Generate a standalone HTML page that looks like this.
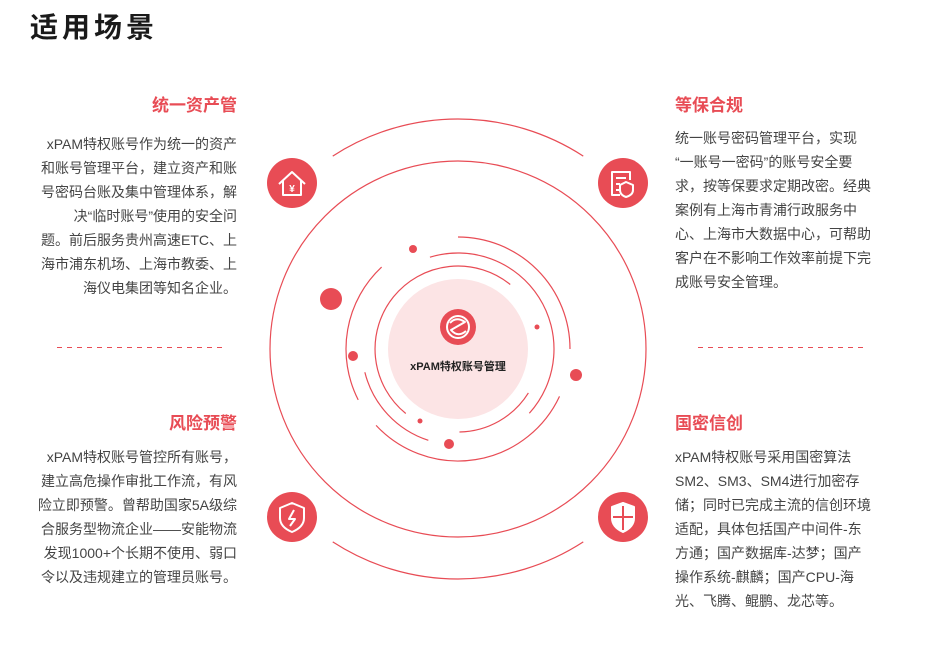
<!DOCTYPE html>
<html><head><meta charset="utf-8"><style>
body{margin:0;width:926px;height:648px;background:#fff;position:relative;overflow:hidden;font-family:"Liberation Sans","Noto Sans CJK SC",sans-serif;}
.h{position:absolute;left:30px;top:6px;font-size:28px;font-weight:bold;color:#1a1a1a;letter-spacing:4px;}
.t{position:absolute;font-size:17px;font-weight:bold;color:#e84c55;}
.p{position:absolute;font-size:14px;line-height:24px;color:#444;white-space:nowrap;}
.r{text-align:right;}
</style></head><body>
<div class="h">适用场景</div>
<div class="t" style="right:689px;top:91px">统一资产管</div>
<div class="p r" style="right:689px;top:132px">xPAM特权账号作为统一的资产<br>和账号管理平台，建立资产和账<br>号密码台账及集中管理体系，解<br>决“临时账号”使用的安全问<br>题。前后服务贵州高速ETC、上<br>海市浦东机场、上海市教委、上<br>海仪电集团等知名企业。</div>
<div class="t" style="left:675px;top:91px">等保合规</div>
<div class="p" style="left:675px;top:126px">统一账号密码管理平台，实现<br>“一账号一密码”的账号安全要<br>求，按等保要求定期改密。经典<br>案例有上海市青浦行政服务中<br>心、上海市大数据中心，可帮助<br>客户在不影响工作效率前提下完<br>成账号安全管理。</div>
<div class="t" style="right:689px;top:409px">风险预警</div>
<div class="p r" style="right:689px;top:445px">xPAM特权账号管控所有账号，<br>建立高危操作审批工作流，有风<br>险立即预警。曾帮助国家5A级综<br>合服务型物流企业——安能物流<br>发现1000+个长期不使用、弱口<br>令以及违规建立的管理员账号。</div>
<div class="t" style="left:675px;top:409px">国密信创</div>
<div class="p" style="left:675px;top:445px">xPAM特权账号采用国密算法<br>SM2、SM3、SM4进行加密存<br>储；同时已完成主流的信创环境<br>适配，具体包括国产中间件-东<br>方通；国产数据库-达梦；国产<br>操作系统-麒麟；国产CPU-海<br>光、飞腾、鲲鹏、龙芯等。</div>
<svg width="926" height="648" style="position:absolute;left:0;top:0" id="s">
<circle cx="458" cy="349" r="70" fill="#fce4e5"/>
<circle cx="458" cy="349" r="188" fill="none" stroke="#e84c55" stroke-width="1.2"/>
<g stroke="#e84c55" stroke-width="1" stroke-dasharray="5,5">
<line x1="57" y1="347.5" x2="222" y2="347.5"/><line x1="698" y1="347.5" x2="863" y2="347.5"/>
</g>
<g fill="#e84c55">
<circle cx="413" cy="249" r="4"/><circle cx="331" cy="299" r="11"/><circle cx="353" cy="356" r="5"/>
<circle cx="537" cy="327" r="2.5"/><circle cx="576" cy="375" r="6"/><circle cx="420" cy="421" r="2.5"/><circle cx="449" cy="444" r="5"/>
<circle cx="292" cy="183" r="25"/><circle cx="623" cy="183" r="25"/><circle cx="292" cy="517" r="25"/><circle cx="623" cy="517" r="25"/>
<circle cx="458" cy="327" r="18"/>
</g>
<g fill="none" stroke="#fff" stroke-width="2" stroke-linejoin="round">
<path d="M279 184 L292 172 L305 184 M283 181 V195 H301 V181"/>
<text x="292" y="192" font-size="10" fill="#fff" stroke="none" text-anchor="middle" font-weight="bold">¥</text>
<path d="M630 180 V172 H612 V195 H620 M616 178 H626 M616 184 H620 M616 190 H619"/>
<path d="M626 182 L633 185 V190 Q633 195 626 197 Q620 195 620 190 V185 Z"/>
<path d="M292 503 L304 508 V518 Q304 527 292 532 Q280 527 280 518 V508 Z"/>
<path d="M294 510 L289 519 H295 L290 526"/>
<path d="M623 503 L634 507 V518 Q634 527 623 532 Q612 527 612 518 V507 Z" fill="#fff"/>
<path d="M623 506 V530 M613 517 H633" stroke="#e84c55"/>
<circle cx="458" cy="327" r="11"/>
<path d="M450 323 Q456 316 465 322 L451 330 Q458 338 466 331"/>
</g>
<text x="458" y="370" font-size="11" font-weight="bold" text-anchor="middle" fill="#222">xPAM特权账号管理</text>
</svg>
<script>
var s=document.getElementById('s'),cx=458,cy=349;
function arc(r,a1,a2){var t=Math.PI/180,x1=cx+r*Math.cos(a1*t),y1=cy+r*Math.sin(a1*t),x2=cx+r*Math.cos(a2*t),y2=cy+r*Math.sin(a2*t);
var p=document.createElementNS('http://www.w3.org/2000/svg','path');
p.setAttribute('d','M'+x1+' '+y1+' A'+r+' '+r+' 0 '+((a2-a1)>180?1:0)+' 1 '+x2+' '+y2);
p.setAttribute('fill','none');p.setAttribute('stroke','#e84c55');p.setAttribute('stroke-width','1.2');s.insertBefore(p,s.firstChild.nextSibling);}
arc(230,-123,-57);arc(230,57,123);
arc(112,-90,0);arc(112,153,227);arc(112,25,137);
arc(96,-107,42);arc(96,108,166);
arc(83,129,309);arc(83,32,89);
</script>
</body></html>
